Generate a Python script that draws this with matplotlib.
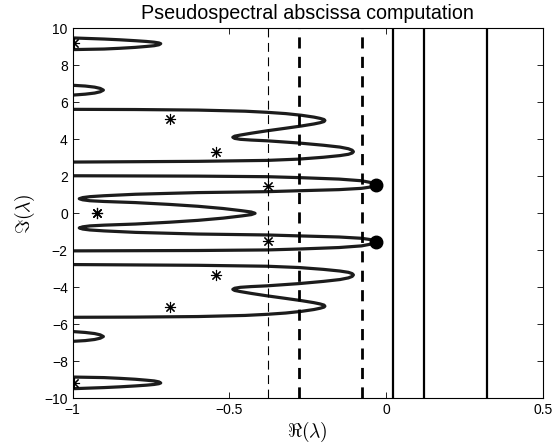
import matplotlib
matplotlib.use("Agg")
import matplotlib.pyplot as plt
import numpy as np

plt.rcParams['font.family'] = ['Liberation Sans', 'DejaVu Sans']
plt.rcParams['mathtext.fontset'] = 'cm'

# eigenvalues (upper half, spectrum is conjugate symmetric)
eig_re = [-0.997, -0.689, -0.544, -0.378, -0.921]
eig_im = [9.18, 5.08, 3.33, 1.49, 0.0]

# pseudospectral abscissa points
abs_re = [-0.032, -0.032]
abs_im = [1.55, -1.55]

# vertical lines: iterates of the abscissa computation
thin_dash_x = [-0.378]
thick_dash_x = [-0.278, -0.0776]
solid_x = [0.0214, 0.1213, 0.3224]

# contour pieces (upper half)
lobe_top_re = [-1.0, -0.90, -0.85, -0.80, -0.765, -0.74, -0.725, -0.719, -0.725, -0.74, -0.765, -0.80, -0.85, -0.90, -1.0]
lobe_top_im = [9.48, 9.42, 9.38, 9.33, 9.29, 9.25, 9.21, 9.17, 9.11, 9.06, 9.02, 8.97, 8.92, 8.88, 8.85]

lobe_mid_re = [-1.0, -0.96, -0.93, -0.912, -0.902, -0.912, -0.93, -0.96, -1.0]
lobe_mid_im = [6.92, 6.88, 6.82, 6.75, 6.66, 6.57, 6.50, 6.44, 6.39]

s_curve_re = [-1.0, -0.8, -0.6, -0.45, -0.38, -0.32, -0.27, -0.23, -0.21, -0.198, -0.195,
              -0.198, -0.21, -0.23, -0.27, -0.32, -0.38, -0.43, -0.465, -0.483, -0.489,
              -0.483, -0.465, -0.43, -0.38, -0.278, -0.2, -0.147, -0.12, -0.108, -0.104,
              -0.108, -0.12, -0.147, -0.2, -0.278, -0.38, -0.6, -0.8, -1.0]
s_curve_im = [5.62, 5.61, 5.58, 5.52, 5.46, 5.39, 5.30, 5.20, 5.13, 5.07, 5.02,
              4.96, 4.90, 4.83, 4.72, 4.60, 4.46, 4.33, 4.23, 4.17, 4.11,
              4.05, 4.00, 3.96, 3.92, 3.80, 3.68, 3.58, 3.49, 3.41, 3.33,
              3.26, 3.19, 3.12, 3.03, 2.93, 2.86, 2.81, 2.79, 2.77]

center_re = [-1.0, -0.6, -0.38, -0.278, -0.15, -0.078, -0.05, -0.038, -0.032,
             -0.038, -0.05, -0.078, -0.15, -0.278, -0.38, -0.6, -0.69, -0.8, -0.9, -0.945, -0.968, -0.979,
             -0.968, -0.945, -0.9, -0.8, -0.69, -0.6, -0.52, -0.46, -0.43, -0.418]
center_im = [2.03, 2.01, 1.98, 1.93, 1.85, 1.76, 1.67, 1.61, 1.55,
             1.48, 1.42, 1.35, 1.28, 1.22, 1.17, 1.12, 1.08, 1.03, 0.95, 0.90, 0.85, 0.79,
             0.73, 0.68, 0.64, 0.58, 0.48, 0.38, 0.26, 0.14, 0.07, 0.0]

fig = plt.figure(figsize=(5.57, 4.48), dpi=100)
ax = fig.add_axes([0.1305, 0.1109, 0.8438, 0.8259])

curve_kw = dict(color='#1c1c1c', lw=2.3, solid_capstyle='butt')
for re, im in [(lobe_top_re, lobe_top_im), (lobe_mid_re, lobe_mid_im),
               (s_curve_re, s_curve_im)]:
    ax.plot(re, im, **curve_kw)
    ax.plot(re, [-v for v in im], **curve_kw)
# central piece joins with its conjugate through the real axis
ax.plot(center_re + center_re[::-1], center_im + [-v for v in center_im[::-1]], **curve_kw)

for x in thin_dash_x:
    ax.axvline(x, color='k', lw=0.8, dashes=(8, 5))
for x in thick_dash_x:
    ax.axvline(x, color='k', lw=2.0, dashes=(4, 3))
for x in solid_x:
    ax.axvline(x, color='k', lw=1.6)

ax.plot(eig_re + eig_re, eig_im + [-v for v in eig_im], ls='none', marker=(8, 2, 0),
        ms=8, mew=0.8, color='k')
ax.plot(abs_re, abs_im, 'o', ms=9, color='k')

ax.set_xlim(-1, 0.5)
ax.set_ylim(-10, 10)
ax.set_xticks([-1, -0.5, 0, 0.5])
ax.set_xticklabels(['\u22121', '\u22120.5', '0', '0.5'])
ax.set_yticks(np.arange(-10, 11, 2))
ax.tick_params(direction='in', top=True, right=True, labelsize=10, length=4, width=0.6)
for sp in ax.spines.values():
    sp.set_linewidth(0.8)

ax.set_title('Pseudospectral abscissa computation', fontsize=14.2, pad=6.5)
ax.set_xlabel(r'$\Re(\lambda)$', fontsize=14, labelpad=2)
ax.set_ylabel(r'$\Im(\lambda)$', fontsize=14, labelpad=5)

fig.savefig('out.png', dpi=100)
